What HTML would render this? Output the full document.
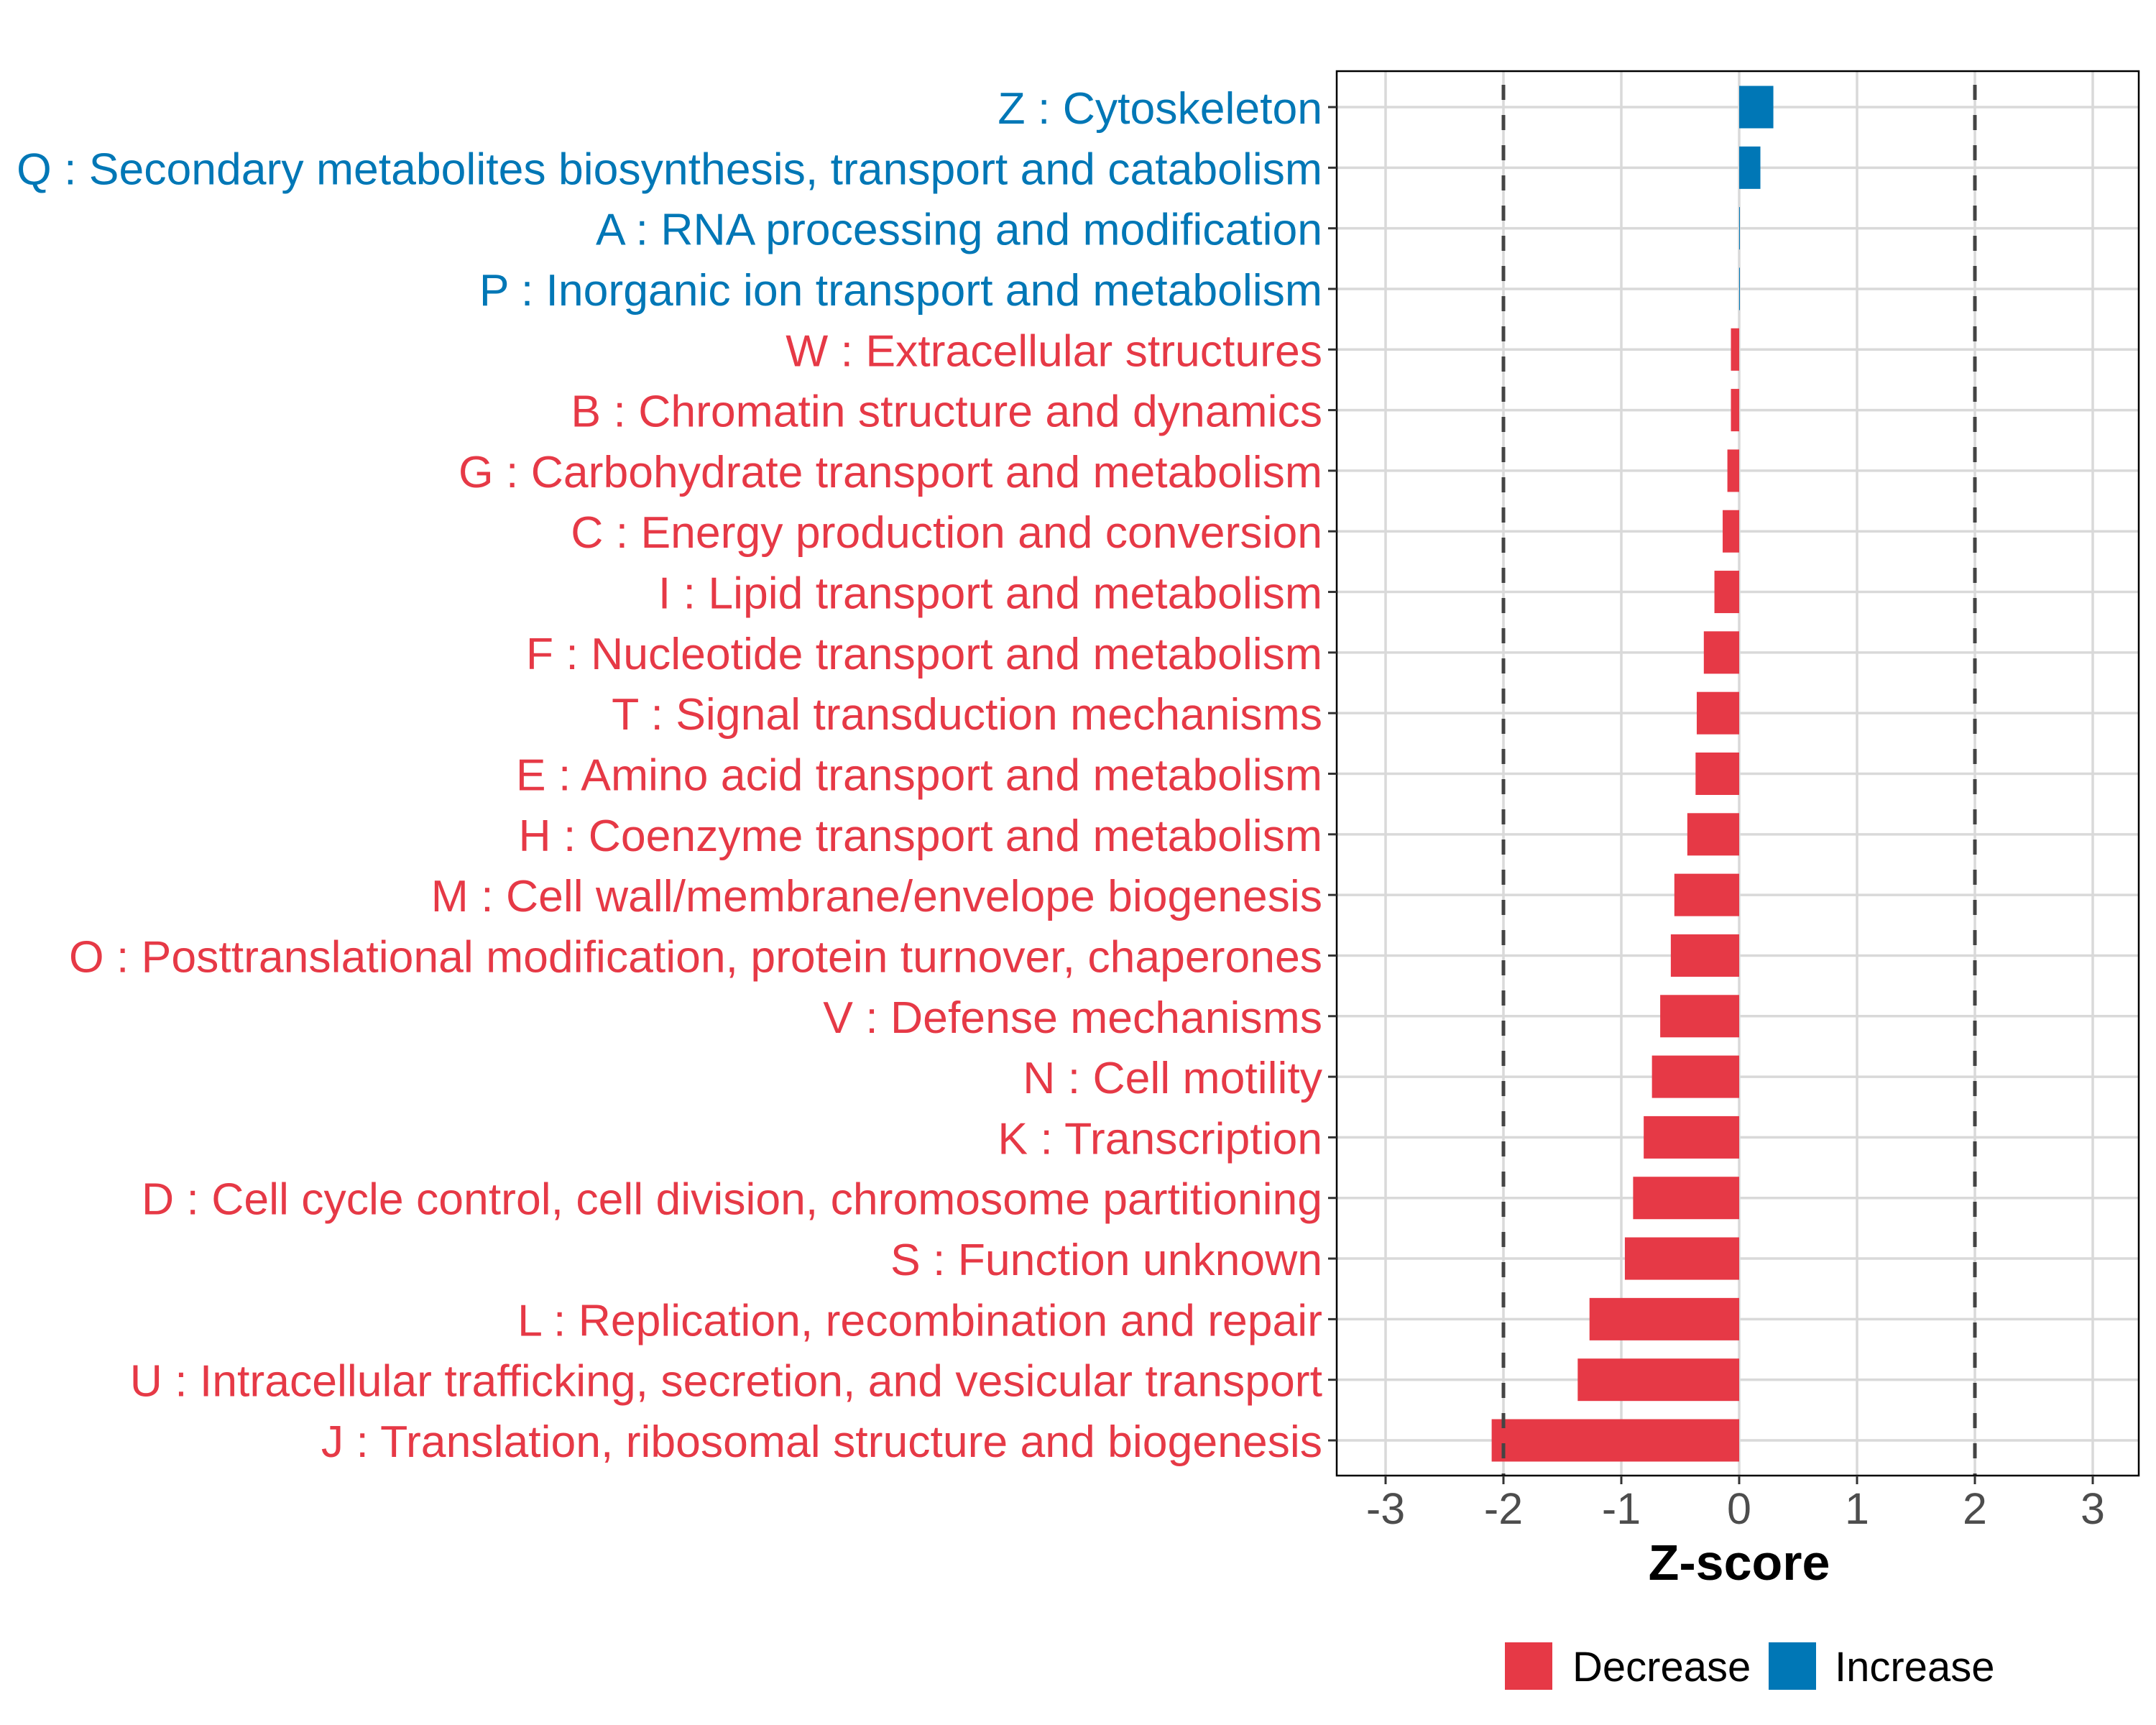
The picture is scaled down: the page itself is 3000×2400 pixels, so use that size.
<!DOCTYPE html>
<html><head><meta charset="utf-8"><style>
html,body{margin:0;padding:0;background:#fff;}
svg{display:block;}
text{font-family:"Liberation Sans",Arial,sans-serif;}
</style></head><body>
<svg id="chart" width="3000" height="2400" viewBox="0 0 3000 2400" xmlns="http://www.w3.org/2000/svg">
<rect width="3000" height="2400" fill="#fff"/>
<g id="grid"></g>
<g id="bars"></g>
<g id="refs"></g>
<rect x="1860" y="99" width="1116" height="1954" fill="none" stroke="#000" stroke-width="2.5"/>
<g id="yaxis"></g>
<g id="xaxis"></g>
<text x="2420" y="2198" font-size="70" font-weight="bold" text-anchor="middle" fill="#000">Z-score</text>
<g>
<rect x="2094" y="2285" width="66" height="66" fill="#E63946"/>
<text x="2188" y="2339" font-size="58" fill="#000">Decrease</text>
<rect x="2461" y="2285" width="66" height="66" fill="#0077B6"/>
<text x="2553" y="2339" font-size="58" fill="#000">Increase</text>
</g>
</svg>
<script>
const categories = [
"Z : Cytoskeleton",
"Q : Secondary metabolites biosynthesis, transport and catabolism",
"A : RNA processing and modification",
"P : Inorganic ion transport and metabolism",
"W : Extracellular structures",
"B : Chromatin structure and dynamics",
"G : Carbohydrate transport and metabolism",
"C : Energy production and conversion",
"I : Lipid transport and metabolism",
"F : Nucleotide transport and metabolism",
"T : Signal transduction mechanisms",
"E : Amino acid transport and metabolism",
"H : Coenzyme transport and metabolism",
"M : Cell wall/membrane/envelope biogenesis",
"O : Posttranslational modification, protein turnover, chaperones",
"V : Defense mechanisms",
"N : Cell motility",
"K : Transcription",
"D : Cell cycle control, cell division, chromosome partitioning",
"S : Function unknown",
"L : Replication, recombination and repair",
"U : Intracellular trafficking, secretion, and vesicular transport",
"J : Translation, ribosomal structure and biogenesis"
];
const zscores = [0.29,0.18,0.005,0.005,-0.07,-0.07,-0.1,-0.14,-0.21,-0.30,-0.36,-0.37,-0.44,-0.55,-0.58,-0.67,-0.74,-0.81,-0.90,-0.97,-1.27,-1.37,-2.10];
const xTicks = [-3,-2,-1,0,1,2,3];
const refLines = [-2,2];

const NS="http://www.w3.org/2000/svg";
const X0=2420, UNIT=164, Y0=149, STEP=(2004-149)/22, BARH=59;
const PL=1860, PR=2976, PT=99, PB=2053;
function xs(v){return X0+v*UNIT;}
function ys(i){return Y0+i*STEP;}
function mk(tag,attrs,parent){const e=document.createElementNS(NS,tag);for(const k in attrs)e.setAttribute(k,attrs[k]);parent.appendChild(e);return e;}
const RED="#E63946", BLUE="#0077B6";
const grid=document.getElementById('grid'), bars=document.getElementById('bars'), refs=document.getElementById('refs'), yaxis=document.getElementById('yaxis'), xaxis=document.getElementById('xaxis');

xTicks.forEach(t=>{
  const l=mk('line',{x1:xs(t),x2:xs(t),y1:PT,y2:PB,stroke:'#d9d9d9','stroke-width':3.5},grid);
  
  
  const tk=mk('line',{x1:xs(t),x2:xs(t),y1:PB,y2:PB+12,stroke:'#333','stroke-width':3},xaxis);
  
  
  const tx=mk('text',{x:xs(t),y:2120,'font-size':61,'text-anchor':'middle',fill:'#4d4d4d'},xaxis);
  tx.textContent=String(t);
  
  
});
categories.forEach((c,i)=>{
  const y=ys(i);
  const g=mk('line',{x1:PL,x2:PR,y1:y,y2:y,stroke:'#d9d9d9','stroke-width':3.5},grid);
  
  
  const v=zscores[i];
  const col=v>=0?BLUE:RED;
  const w=Math.max(Math.abs(xs(v)-xs(0)),1);
  const b=mk('rect',{x:Math.min(xs(v),xs(0)),y:y-BARH/2,width:w,height:BARH,fill:col},bars);
  
  
  const tk=mk('line',{x1:PL-12,x2:PL,y1:y,y2:y,stroke:'#333','stroke-width':3},yaxis);
  
  
  const tx=mk('text',{x:1840,y:y+23,'font-size':62.5,'text-anchor':'end',fill:col},yaxis);
  tx.textContent=c;
  
  
});
refLines.forEach(r=>{
  const l=mk('line',{x1:xs(r),x2:xs(r),y1:PT,y2:PB,stroke:'#444','stroke-width':5,'stroke-dasharray':'21 21','stroke-dashoffset':'-19'},refs);
  
  
});
</script>
</body></html>
